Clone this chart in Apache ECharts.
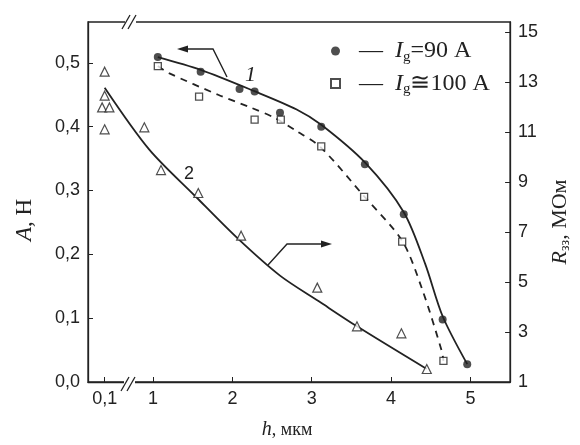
<!DOCTYPE html>
<html>
<head>
<meta charset="utf-8">
<script src="https://cdn.jsdelivr.net/npm/echarts@6/dist/echarts.min.js"></script>
<style>
  html, body { margin: 0; padding: 0; background: #fff; }
  #chart { width: 580px; height: 445px; }
</style>
</head>
<body>
<div id="chart"></div>
<script>
// curve 1 (left axis, A, Н): Ig=90 A points + fitted line
var circleH = [1.06, 1.60, 2.09, 2.28, 2.60, 3.12, 3.67, 4.16, 4.65, 4.96];
var circleA = [0.509, 0.486, 0.459, 0.455, 0.422, 0.400, 0.341, 0.263, 0.098, 0.028];
var fit1H = [1.06, 1.60, 2.27, 2.81, 3.12, 3.67, 4.16, 4.43, 4.65, 4.96];
var fit1A = [0.509, 0.489, 0.456, 0.427, 0.403, 0.344, 0.266, 0.185, 0.103, 0.028];

// curve 1, Ig~100 A points + dashed line
var squareH = [1.06, 1.58, 2.28, 2.61, 3.12, 3.66, 4.14, 4.66];
var squareA = [0.495, 0.447, 0.411, 0.411, 0.369, 0.290, 0.220, 0.033];
var dashH = [1.06, 1.20, 1.82, 2.23, 2.53, 2.81, 3.11, 3.66, 4.14, 4.39, 4.64, 4.66];
var dashA = [0.495, 0.484, 0.450, 0.430, 0.414, 0.393, 0.368, 0.291, 0.221, 0.146, 0.048, 0.033];

// curve 2 (right axis, R, МОм)
var triH = [0.1, 0.1, 0.092, 0.115, 0.1, 0.89, 1.10, 1.57, 2.11, 3.07, 3.57, 4.13, 4.45];
var triR = [13.43, 12.47, 12.0, 12.0, 11.12, 11.2, 9.49, 8.57, 6.86, 4.78, 3.23, 2.95, 1.52];
var fit2H = [0.1, 0.95, 1.53, 2.07, 2.60, 3.09, 3.57, 4.45];
var fit2R = [12.79, 10.32, 8.45, 6.74, 5.26, 4.23, 3.23, 1.52];

var xTickH = [0.1, 1, 2, 3, 4, 5];
var xTickLabels = ['0,1', '1', '2', '3', '4', '5'];
var leftTicks = [0, 0.1, 0.2, 0.3, 0.4, 0.5];
var rightTicks = [1, 3, 5, 7, 9, 11, 13, 15];

// broken h axis: everything below the break is squeezed next to 0,1
function hx(h) {
  return h < 0.5 ? 0.39 + (h - 0.1) * 4 : h;
}
function pairs(xs, ys) {
  return xs.map(function (x, i) { return [hx(x), ys[i]]; });
}

var ink = '#222';
var serif = '"Liberation Serif", "DejaVu Serif", serif';
var sans = '"Liberation Sans", Arial, sans-serif';

var chart = echarts.init(document.getElementById('chart'));
var option = {
  backgroundColor: '#fff',
  animation: false,
  grid: { left: 88, right: 64, top: 22, bottom: 61, show: true, borderColor: ink, borderWidth: 1.3 },
  legend: {
    left: 325, top: 34, orient: 'vertical', itemGap: 7,
    itemWidth: 9, itemHeight: 9,
    data: ['g90', 'g100'],
    formatter: function (name) {
      return name === 'g90'
        ? '{d|—}{i|I}{s|g}{t|=90 A}'
        : '{d|—}{i|I}{s|g}{t|≅100 A}';
    },
    textStyle: {
      rich: {
        d: { fontFamily: serif, fontSize: 24, color: ink, padding: [0, 12, 0, 14] },
        i: { fontFamily: serif, fontStyle: 'italic', fontSize: 24, color: ink },
        s: { fontFamily: serif, fontSize: 15, color: ink, padding: [12, 0, 0, 0] },
        t: { fontFamily: serif, fontSize: 24, color: ink }
      }
    }
  },
  xAxis: {
    type: 'value', min: 0.18, max: 5.5,
    name: '{i|h}, мкм', nameLocation: 'middle', nameGap: 38,
    nameTextStyle: {
      padding: [0, 24, 0, 0],
      rich: {
        i: { fontFamily: serif, fontStyle: 'italic', fontSize: 20, color: ink },
      },
      fontFamily: serif, fontSize: 18, color: ink
    },
    axisLine: { lineStyle: { color: ink, width: 1.3 } },
    axisTick: { inside: true, length: 5, customValues: xTickH.map(hx), lineStyle: { color: ink } },
    axisLabel: {
      customValues: xTickH.map(hx), margin: 8,
      fontFamily: sans, fontSize: 18, color: ink,
      formatter: function (v) {
        var i = xTickH.map(hx).indexOf(v);
        return i >= 0 ? xTickLabels[i] : '';
      }
    },
    splitLine: { show: false }
  },
  yAxis: [{
    type: 'value', min: 0, max: 0.564, position: 'left',
    name: '{i|A}, Н', nameLocation: 'middle', nameRotate: 90, nameGap: 52,
    nameTextStyle: {
      fontFamily: serif, fontSize: 23, color: ink, padding: [0, 36, 0, 0],
      rich: { i: { fontFamily: serif, fontStyle: 'italic', fontSize: 23, color: ink } }
    },
    axisLine: { show: true, lineStyle: { color: ink, width: 1.3 } },
    axisTick: { inside: true, length: 5, customValues: leftTicks, lineStyle: { color: ink } },
    axisLabel: {
      customValues: leftTicks, margin: 8,
      fontFamily: sans, fontSize: 18, color: ink,
      formatter: function (v) { return v.toFixed(1).replace('.', ','); }
    },
    splitLine: { show: false }
  }, {
    type: 'value', min: 1, max: 15.42, position: 'right',
    name: '{i|R}{s|зз}, МОм', nameLocation: 'middle', nameRotate: 90, nameGap: 36,
    nameTextStyle: {
      fontFamily: serif, fontSize: 22, color: ink, padding: [0, 40, 0, 0],
      rich: {
        i: { fontFamily: serif, fontStyle: 'italic', fontSize: 22, color: ink },
        s: { fontFamily: serif, fontSize: 14, color: ink, padding: [10, 0, 0, 0] }
      }
    },
    axisLine: { show: true, lineStyle: { color: ink, width: 1.3 } },
    axisTick: { inside: true, length: 5, customValues: rightTicks, lineStyle: { color: ink } },
    axisLabel: {
      customValues: rightTicks, margin: 8,
      fontFamily: sans, fontSize: 18, color: ink,
      formatter: function (v) { return String(v); }
    },
    splitLine: { show: false }
  }],
  series: [{
    name: 'fit1', type: 'line', smooth: 0.3, symbol: 'none',
    data: pairs(fit1H, fit1A),
    lineStyle: { color: ink, width: 1.8 }
  }, {
    name: 'dash', type: 'line', smooth: 0.3, symbol: 'none',
    data: pairs(dashH, dashA),
    lineStyle: { color: ink, width: 1.8, type: [7, 6] }
  }, {
    name: 'fit2', type: 'line', smooth: 0.3, symbol: 'none', yAxisIndex: 1,
    data: pairs(fit2H, fit2R),
    lineStyle: { color: ink, width: 1.8 }
  }, {
    name: 'g90', type: 'scatter', symbol: 'circle', symbolSize: 8,
    data: pairs(circleH, circleA),
    itemStyle: { color: ink }, z: 5
  }, {
    name: 'g100', type: 'scatter', symbol: 'rect', symbolSize: 7,
    data: pairs(squareH, squareA),
    itemStyle: { color: '#fff', borderColor: ink, borderWidth: 1.3 }, z: 5
  }, {
    name: 'tri', type: 'scatter', symbol: 'triangle', symbolSize: 9, yAxisIndex: 1,
    data: pairs(triH, triR),
    itemStyle: { color: '#fff', borderColor: ink, borderWidth: 1.2 }, z: 5
  }],
  graphic: [
    // axis break marks
    { type: 'rect', z: 100, shape: { x: 124, y: 378, width: 11, height: 12 }, style: { fill: '#fff' } },
    { type: 'line', z: 101, shape: { x1: 121, y1: 391, x2: 129, y2: 377 }, style: { stroke: ink, lineWidth: 1.3 } },
    { type: 'line', z: 101, shape: { x1: 127, y1: 391, x2: 135, y2: 377 }, style: { stroke: ink, lineWidth: 1.3 } },
    { type: 'rect', z: 100, shape: { x: 125, y: 16, width: 11, height: 12 }, style: { fill: '#fff' } },
    { type: 'line', z: 101, shape: { x1: 122, y1: 29, x2: 130, y2: 15 }, style: { stroke: ink, lineWidth: 1.3 } },
    { type: 'line', z: 101, shape: { x1: 128, y1: 29, x2: 136, y2: 15 }, style: { stroke: ink, lineWidth: 1.3 } },
    // pointer from curve 1 to left axis
    { type: 'polyline', z: 101, shape: { points: [[227, 77], [213, 49], [186, 49]] }, style: { stroke: ink, lineWidth: 1.4, fill: null } },
    { type: 'polygon', z: 101, shape: { points: [[177, 49], [188, 45.5], [188, 52.5]] }, style: { fill: ink } },
    // pointer from curve 2 to right axis
    { type: 'polyline', z: 101, shape: { points: [[268, 265], [287, 244], [322, 244]] }, style: { stroke: ink, lineWidth: 1.4, fill: null } },
    { type: 'polygon', z: 101, shape: { points: [[332, 244], [321, 240.5], [321, 247.5]] }, style: { fill: ink } },
    // curve numbers
    { type: 'text', z: 101, left: 245, top: 64, style: { text: '1', font: 'italic 22px ' + serif, fill: ink } },
    { type: 'text', z: 101, left: 184, top: 165, style: { text: '2', font: '18px ' + sans, fill: ink } }
  ]
};
chart.setOption(option);
</script>
</body>
</html>
